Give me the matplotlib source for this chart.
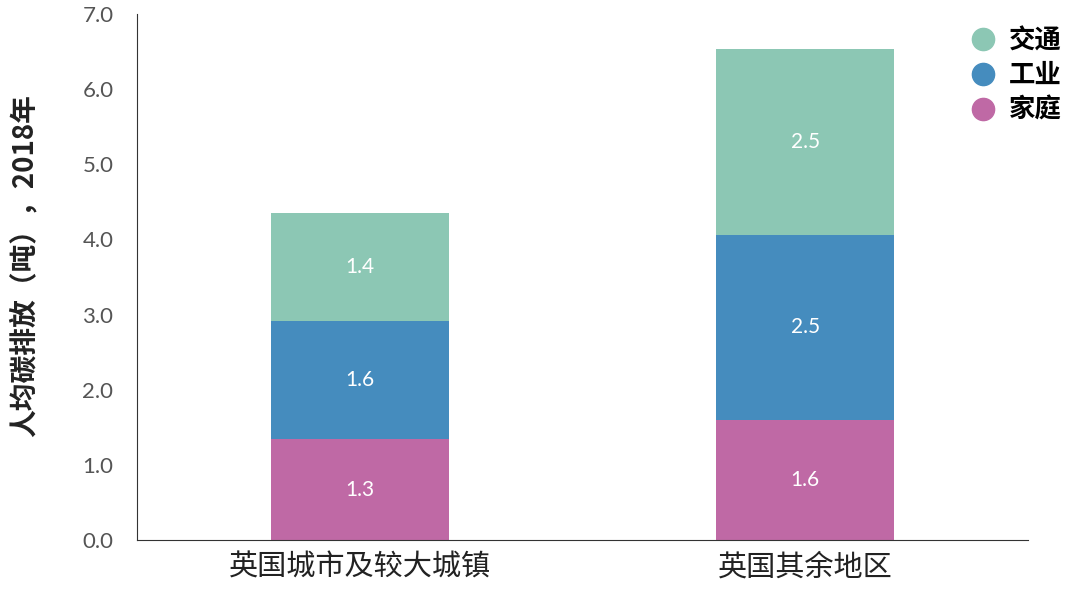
import numpy as np
import matplotlib.pyplot as plt
from matplotlib.lines import Line2D

plt.rcParams['font.family'] = ['Noto Sans CJK SC', 'DejaVu Sans']

categories = ['英国城市及较大城镇', '英国其余地区']
series_names = ['家庭', '工业', '交通']
household = [1.34, 1.60]
industry = [1.58, 2.46]
transport = [1.43, 2.47]
colors = ['#bf69a5', '#458cbe', '#8cc7b4']
yticks = [0, 1, 2, 3, 4, 5, 6, 7]

fig = plt.figure(figsize=(10.8, 5.99), dpi=100)
ax = fig.add_axes([0.1269, 0.0985, 0.825, 0.878])

x = np.arange(len(categories))
bottom = np.zeros(len(categories))
for name, vals, c in zip(series_names, [household, industry, transport], colors):
    ax.bar(x, vals, width=0.4, bottom=bottom, color=c, label=name)
    for xi, b, v in zip(x, bottom, vals):
        ax.text(xi, b + v / 2, f"{v:.1f}", ha='center', va='center',
                color='white', fontsize=15, family=['Lato', 'DejaVu Sans'])
    bottom += np.array(vals)

ax.set_xlim(-0.5, 1.5)
ax.set_ylim(0, 7)
ax.set_yticks(yticks)
ax.set_yticklabels([f"{t:.1f}" for t in yticks], family=['Lato', 'DejaVu Sans'],
                   fontsize=16, color='#555555')
ax.set_xticks(x)
ax.set_xticklabels(categories, fontsize=21, color='#222222')
ax.tick_params(axis='both', length=0)
ax.tick_params(axis='y', pad=17)
ax.tick_params(axis='x', pad=9)
ax.spines['top'].set_visible(False)
ax.spines['right'].set_visible(False)
ax.spines['left'].set_color('#333333')
ax.spines['bottom'].set_color('#333333')
ax.set_ylabel('人均碳排放（吨），2018年', fontsize=20, color='#222222',
              fontweight='bold')
ax.yaxis.set_label_coords(-0.11, 0.521)

leg_handles = [Line2D([], [], marker='o', linestyle='', markersize=16,
                      markerfacecolor=c, markeredgecolor=c)
               for c in colors[::-1]]
ax.legend(leg_handles, series_names[::-1], loc='upper right',
          bbox_to_anchor=(1.038, 0.975), frameon=False,
          handletextpad=0.4, labelspacing=0.3, borderaxespad=0, borderpad=0,
          handlelength=1.2, prop={'size': 19, 'weight': 'bold'})

fig.savefig('out.png', dpi=100)
